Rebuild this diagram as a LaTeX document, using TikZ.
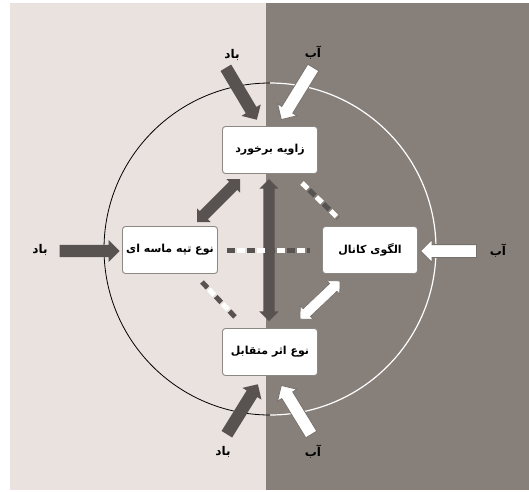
\documentclass[tikz,border=0pt]{standalone}
\usepackage{fontspec}
\usetikzlibrary{shapes.arrows,calc}
\TeXXeTstate=1
\newfontfamily\farsi[Script=Arabic]{DejaVu Sans}
\newcommand{\fa}[1]{{\farsi\bfseries\beginR #1\endR}}
\definecolor{lbg}{HTML}{E9E2DF}
\definecolor{rbg}{HTML}{877F7A}
\definecolor{dk}{HTML}{585350}
\definecolor{outl}{HTML}{77716D}
\definecolor{boxline}{HTML}{8C8884}
\tikzset{
  box/.style={draw=boxline, line width=0.9pt, fill=white, rounded corners=3pt,
    minimum width=95pt, minimum height=47pt, inner sep=1pt,
    font=\fontsize{11}{13}\selectfont},
  lbl/.style={inner sep=1pt, font=\fontsize{12}{14}\selectfont},
  windarrow/.style={single arrow, fill=dk, inner xsep=0pt, inner ysep=6pt,
    single arrow head extend=5pt, single arrow tip angle=90},
  waterarrow/.style={single arrow, fill=white, draw=outl, line width=0.8pt,
    inner xsep=0pt, inner ysep=6pt, single arrow head extend=5pt, single arrow tip angle=90},
  darkdouble/.style={double arrow, fill=dk, inner xsep=0pt, inner ysep=5.5pt,
    double arrow head extend=4pt, double arrow tip angle=90},
  whitedouble/.style={double arrow, fill=white, draw=outl, line width=0.6pt,
    inner xsep=0pt, inner ysep=5pt, double arrow head extend=4pt, double arrow tip angle=90},
  dashfirst/.style={line width=5pt, dash pattern=on 8pt off 12pt},
  dashsecond/.style={line width=5pt, dash pattern=on 8pt off 12pt, dash phase=10pt},
}
\newcommand{\blockarrow}[3]{\path let \p1=(#2), \p2=(#3), \n1={veclen(\x2-\x1,\y2-\y1)} in
  (#2) -- node[pos=1, sloped, allow upside down, anchor=tip, minimum height=\n1, #1] {} (#3);}
\newcommand{\twoarrow}[3]{\path let \p1=(#2), \p2=(#3), \n1={veclen(\x2-\x1,\y2-\y1)} in
  (#2) -- node[pos=0.5, sloped, allow upside down, anchor=center, minimum height=\n1, #1] {} (#3);}
% #1 colour of first dash, #2 colour of second dash
\newcommand{\dashconn}[4]{\draw[dashsecond, #2] (#3) -- (#4); \draw[dashfirst, #1] (#3) -- (#4);}
\begin{document}
\begin{tikzpicture}[x=1pt,y=-1pt]
\useasboundingbox (0,0) rectangle (529,491);
% backgrounds
\fill[lbg] (10,3) rectangle (266,490);
\fill[rbg] (266,3) rectangle (529,490);
% circle
\draw[black, line width=0.8pt] (270,83) arc[start angle=270, end angle=90, radius=166];
\draw[white, line width=1.2pt] (270,83) arc[start angle=-90, end angle=90, radius=166];
% boxes
\node[box] (top) at (270,150) {\fa{زاویه برخورد}};
\node[box] (left) at (170,250) {\fa{نوع تپه ماسه ای}};
\node[box] (right) at (370,250) {\fa{الگوی کانال}};
\node[box] (bot) at (270,352) {\fa{نوع اثر متقابل}};
% labels
\node[lbl] (twl) at (232,55) {\fa{باد}};
\node[lbl] (tal) at (313,53) {\fa{آب}};
\node[lbl] (lwl) at (40,250) {\fa{باد}};
\node[lbl] (ral) at (498,251) {\fa{آب}};
\node[lbl] (bwl) at (223,452) {\fa{باد}};
\node[lbl] (bal) at (313,452) {\fa{آب}};
% arrow end points
\coordinate (tw1) at (226,68);  \coordinate (tw2) at (257,120);
\coordinate (ta1) at (313,68);  \coordinate (ta2) at (281,120);
\coordinate (lw1) at (60,251);  \coordinate (lw2) at (120,251);
\coordinate (ra1) at (476,251); \coordinate (ra2) at (420,251);
\coordinate (bw1) at (227,434); \coordinate (bw2) at (258,384);
\coordinate (ba1) at (311,434); \coordinate (ba2) at (281,385);
\coordinate (d1a) at (240,179); \coordinate (d1b) at (197,222);
\coordinate (v1a) at (269,179); \coordinate (v1b) at (269,321);
\coordinate (w1a) at (340,281); \coordinate (w1b) at (300,319);
\coordinate (s1a) at (302,183); \coordinate (s1b) at (338,218);
\coordinate (s2a) at (227,250); \coordinate (s2b) at (310,250);
\coordinate (s3a) at (202,282); \coordinate (s3b) at (236,318);
% outer arrows
\blockarrow{windarrow}{tw1}{tw2}
\blockarrow{waterarrow}{ta1}{ta2}
\blockarrow{windarrow}{lw1}{lw2}
\blockarrow{waterarrow}{ra1}{ra2}
\blockarrow{windarrow}{bw1}{bw2}
\blockarrow{waterarrow}{ba1}{ba2}
% inner connectors
\twoarrow{darkdouble}{d1a}{d1b}
\twoarrow{darkdouble}{v1a}{v1b}
\twoarrow{whitedouble}{w1a}{w1b}
\dashconn{white}{dk}{s1a}{s1b}
\dashconn{dk}{white}{s2a}{s2b}
\dashconn{dk}{white}{s3a}{s3b}
\end{tikzpicture}
\end{document}
